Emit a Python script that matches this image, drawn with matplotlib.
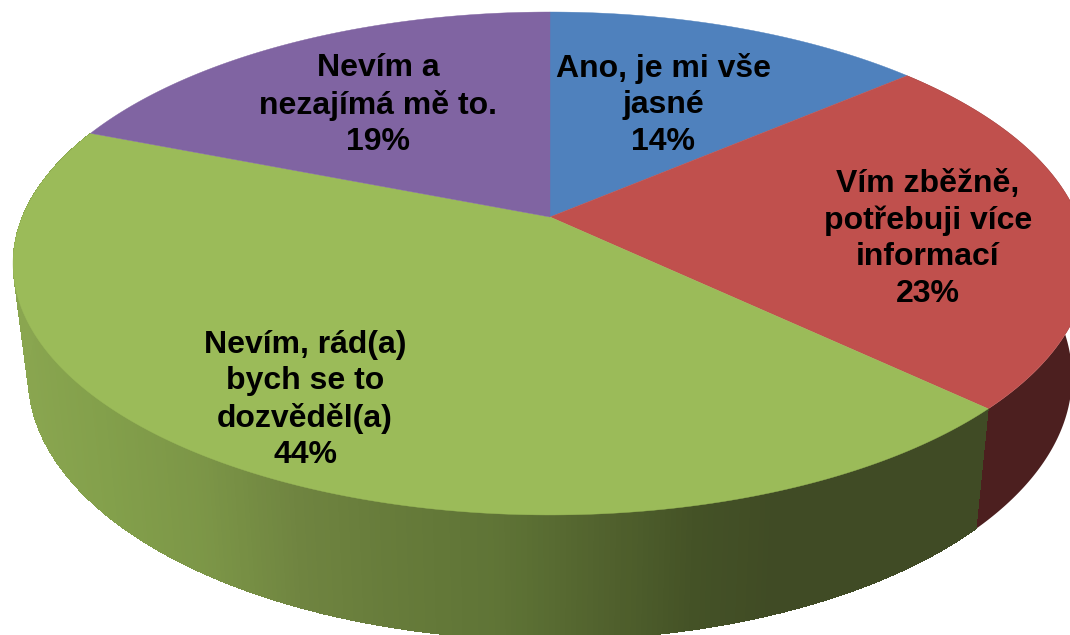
import numpy as np
import matplotlib
matplotlib.use("Agg")
import matplotlib.pyplot as plt
from matplotlib.patches import Polygon

categories = ["Ano, je mi vše\njasné", "Vím zběžně,\npotřebuji více\ninformací",
              "Nevím, rád(a)\nbych se to\ndozvěděl(a)", "Nevím a\nnezajímá mě to."]
values = [13.7, 23.4, 43.9, 19.0]
colors = ["#4f81bd", "#c0504d", "#9bbb59", "#8064a2"]
side_colors = ["#2e4a6e", "#4c1f1f", None, "#4a3a5e"]
label_pos = [(663, 105), (928, 239), (305, 400), (378, 105)]

CX, D = 550.0, 5.41
TOP = dict(f=2855.0, y0=217.0, g=1314.0)
BOT = dict(f=2775.0, y0=328.0, g=1376.0)


def project(t, p):
    u, v = np.sin(t), np.cos(t)
    return np.column_stack([CX + p["f"] * u / (D + v), p["y0"] - p["g"] * v / (D + v)])


grad_x = [10, 100, 200, 300, 400, 500, 600, 700, 780, 1070]
grad_rgb = np.array([[0x8a, 0xa6, 0x50], [0x83, 0xa0, 0x4b], [0x7c, 0x96, 0x47],
                     [0x6f, 0x84, 0x40], [0x66, 0x7b, 0x3a], [0x5f, 0x74, 0x36],
                     [0x52, 0x63, 0x2e], [0x44, 0x52, 0x26], [0x40, 0x4b, 0x25],
                     [0x40, 0x4b, 0x25]]) / 255.0


def green_shade(x):
    return [float(np.interp(x, grad_x, grad_rgb[:, i])) for i in range(3)]


fig = plt.figure(figsize=(10.7, 6.35), dpi=100, facecolor="white")
ax = fig.add_axes([0, 0, 1, 1])
ax.set_xlim(0, 1070)
ax.set_ylim(635, 0)
ax.axis("off")

edges = np.cumsum([0] + values) / sum(values) * 2 * np.pi

# side wall of the red slice: one solid colour
ts = np.linspace(edges[1], edges[2], 200)
a, b = project(ts, TOP), project(ts, BOT)
ax.add_patch(Polygon(np.vstack([a, b[::-1]]), closed=True, facecolor=side_colors[1],
                     edgecolor="none", zorder=2))

# side wall of the green slice: overlapping strips painted right to left,
# each one covering the seam of the one before it
ts = np.linspace(edges[2], edges[3], 320)
a, b = project(ts, TOP), project(ts, BOT)
n = len(ts)
ax.add_patch(Polygon(np.vstack([a, b[::-1]]), closed=True, facecolor=green_shade(300),
                     edgecolor="none", zorder=2))
for j in range(n - 1):
    k = min(j + 5, n - 1)
    ax.add_patch(Polygon([a[j], a[k], b[k], b[j]], closed=True,
                         facecolor=green_shade(a[j, 0]), edgecolor="none",
                         antialiased=False, zorder=2.1))

# top faces
for i, col in enumerate(colors):
    ts = np.linspace(edges[i], edges[i + 1], 200)
    pts = np.vstack([[CX, TOP["y0"]], project(ts, TOP)])
    ax.add_patch(Polygon(pts, closed=True, facecolor=col, edgecolor=col,
                         linewidth=0.3, zorder=3))

for name, val, (x, y) in zip(categories, values, label_pos):
    ax.text(x, y, f"{name}\n{round(val)}%", ha="center", va="center", zorder=5,
            family=["Liberation Sans", "DejaVu Sans"], fontweight="bold",
            fontsize=23, color="black", linespacing=1.27)

fig.savefig("out.png", dpi=100)
